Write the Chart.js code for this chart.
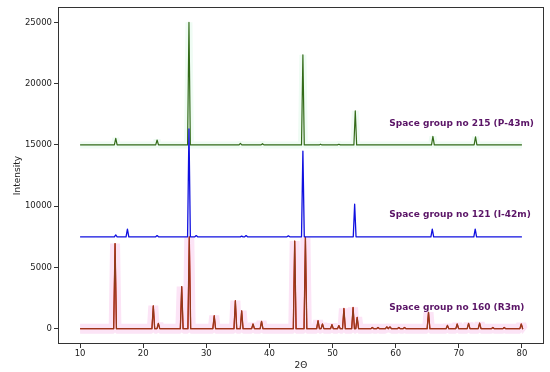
<!DOCTYPE html>
<html>
<head>
<meta charset="utf-8">
<script src="https://cdn.jsdelivr.net/npm/chart.js@4.4.1/dist/chart.umd.min.js"></script>
<style>
  html, body { margin: 0; padding: 0; background: #fff; }
  #box { width: 550px; height: 372px; }
</style>
</head>
<body>
<div id="box"><canvas id="myChart"></canvas></div>
<script>
// valores
const xTicks = [10, 20, 30, 40, 50, 60, 70, 80];
const yTicks = [0, 5000, 10000, 15000, 20000, 25000];
const scanStart = 10;
const scanEnd = 80;

const labelTexts = ['Space group no 160 (R3m)', 'Space group no 121 (I-42m)', 'Space group no 215 (P-43m)'];
const labelX = [59, 59, 59];
const labelY = [1700, 9270, 16750];

// R3m (linha de base 0)
const r3mBase = 0;
const r3mPos = [15.54, 21.6, 22.4, 26.1, 27.3, 31.25, 34.6, 35.6, 37.4, 38.75, 44.0, 45.7, 47.7, 48.4, 49.9, 51.0, 51.8, 53.25, 53.9, 56.3, 57.2, 58.6, 59.1, 60.5, 61.4, 65.2, 68.2, 69.75, 71.55, 73.3, 75.4, 77.2, 79.9];
const r3mTop = [6950, 1870, 430, 3440, 7500, 1060, 2280, 1460, 380, 600, 7150, 7450, 650, 380, 330, 250, 1650, 1730, 920, 100, 100, 150, 150, 100, 100, 1330, 270, 380, 430, 460, 100, 100, 380];

// I-42m (linha de base 7500)
const i42mBase = 7500;
const i42mPos = [15.65, 17.5, 22.2, 27.25, 28.4, 35.6, 36.3, 43.0, 45.3, 53.5, 65.8, 72.6];
const i42mTop = [7650, 8130, 7600, 16300, 7600, 7560, 7600, 7580, 14500, 10160, 8130, 8130];

// P-43m (linha de base 15000)
const p43mBase = 15000;
const p43mPos = [15.65, 22.2, 27.25, 35.4, 38.9, 45.3, 48.1, 51.0, 53.6, 65.9, 72.65];
const p43mTop = [15540, 15400, 25000, 15120, 15100, 22350, 15060, 15050, 17780, 15690, 15660];

function montarPerfil(base, pos, top) {
    const pts = [{x: scanStart, y: base}];
    for (let i = 0; i < pos.length; i++) {
        pts.push({x: pos[i] - 0.22, y: base});
        pts.push({x: pos[i], y: top[i]});
        pts.push({x: pos[i] + 0.22, y: base});
    }
    pts.push({x: scanEnd, y: base});
    return pts;
}

const r3m = montarPerfil(r3mBase, r3mPos, r3mTop);
const i42m = montarPerfil(i42mBase, i42mPos, i42mTop);
const p43m = montarPerfil(p43mBase, p43mPos, p43mTop);

function linha(data, cor, largura, ordem, juncao) {
    return {
        data: data,
        borderColor: cor,
        borderWidth: largura,
        pointRadius: 0,
        tension: 0,
        fill: false,
        order: ordem,
        borderJoinStyle: juncao || 'round',
        borderCapStyle: 'butt'
    };
}

const fonte = 'DejaVu Sans';

const moldura = {
    id: 'moldura',
    afterDatasetsDraw(chart) {
        const {ctx, chartArea: a, scales} = chart;
        ctx.save();
        ctx.strokeStyle = '#333';
        ctx.lineWidth = 1;
        ctx.strokeRect(Math.round(a.left) + 0.5, Math.round(a.top) + 0.5,
                       Math.round(a.right - a.left) - 1, Math.round(a.bottom - a.top) - 1);
        ctx.fillStyle = '#5a1466';
        ctx.font = 'bold 9px "' + fonte + '"';
        ctx.textAlign = 'left';
        ctx.textBaseline = 'middle';
        for (let i = 0; i < labelTexts.length; i++) {
            ctx.fillText(labelTexts[i], scales.x.getPixelForValue(labelX[i]), scales.y.getPixelForValue(labelY[i]));
        }
        ctx.restore();
    }
};

const ctx = document.getElementById('myChart');
new Chart(ctx, {
    type: 'line',
    data: {
        datasets: [
            linha(r3m, '#fce4f6', 10, 9, 'bevel'),
            linha(p43m, '#effcf4', 7, 8, 'bevel'),
            linha(r3m, '#d81a10', 1.3, 6),
            linha(r3m, '#8c3c1c', 1.1, 5),
            linha(p43m, '#336b18', 1.2, 4),
            linha(i42m, '#1010e0', 1.3, 3)
        ]
    },
    options: {
        responsive: true,
        maintainAspectRatio: false,
        devicePixelRatio: 1,
        animation: false,
        layout: { padding: { left: 0, right: 6, top: 5, bottom: 0 } },
        plugins: { legend: { display: false }, tooltip: { enabled: false } },
        scales: {
            x: {
                type: 'linear',
                min: 6.5,
                max: 83.5,
                afterBuildTicks: s => { s.ticks = xTicks.map(v => ({value: v})); },
                afterFit: s => { s.height = 28; },
                border: { display: false },
                grid: { drawOnChartArea: false, drawTicks: true, tickLength: 4, color: '#333' },
                ticks: { color: '#222', font: { family: fonte, size: 8.5 }, padding: 1, maxRotation: 0 },
                title: { display: true, text: '2Θ', color: '#222', font: { family: fonte, size: 9 }, padding: { top: 0, bottom: 1 } }
            },
            y: {
                type: 'linear',
                min: -1250,
                max: 26250,
                afterBuildTicks: s => { s.ticks = yTicks.map(v => ({value: v})); },
                afterFit: s => { s.width = 58; },
                border: { display: false },
                grid: { drawOnChartArea: false, drawTicks: true, tickLength: 4, color: '#333' },
                ticks: { color: '#222', font: { family: fonte, size: 8.5 }, padding: 2, callback: v => String(v) },
                title: { display: true, text: 'Intensity', color: '#222', font: { family: fonte, size: 9 }, padding: { top: 12, bottom: 0 } }
            }
        }
    },
    plugins: [moldura]
});
</script>
</body>
</html>
